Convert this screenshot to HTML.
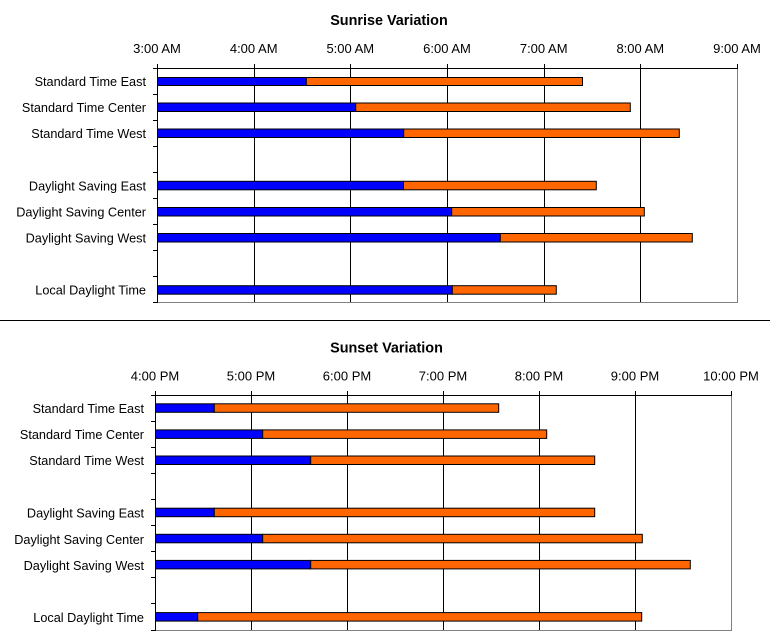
<!DOCTYPE html>
<html><head><meta charset="utf-8"><style>
html,body{margin:0;padding:0;background:#fff;}
svg{display:block;}
text{font-family:"Liberation Sans",Arial,sans-serif;fill:#000;}
.t{font-size:14.4px;font-weight:bold;}
.ax{font-size:13px;}
.cl{font-size:12.7px;}
</style></head><body>
<svg width="770" height="643" viewBox="0 0 770 643" xmlns="http://www.w3.org/2000/svg">
<!-- ================= SUNRISE ================= -->
<text class="t" x="389" y="25" text-anchor="middle">Sunrise Variation</text>
<g class="ax" text-anchor="middle">
<text x="157" y="53">3:00 AM</text>
<text x="253.7" y="53">4:00 AM</text>
<text x="350.3" y="53">5:00 AM</text>
<text x="447" y="53">6:00 AM</text>
<text x="543.7" y="53">7:00 AM</text>
<text x="640.3" y="53">8:00 AM</text>
<text x="737" y="53">9:00 AM</text>
</g>
<!-- borders -->
<line x1="737.5" y1="68" x2="737.5" y2="303" stroke="#808080"/>
<line x1="157" y1="302.5" x2="738" y2="302.5" stroke="#808080"/>
<line x1="157" y1="68.5" x2="738" y2="68.5" stroke="#000"/>
<g stroke="#000">
<line x1="157.5" y1="64" x2="157.5" y2="303"/>
<line x1="254.5" y1="64" x2="254.5" y2="302"/>
<line x1="350.5" y1="64" x2="350.5" y2="302"/>
<line x1="447.5" y1="64" x2="447.5" y2="302"/>
<line x1="544.5" y1="64" x2="544.5" y2="302"/>
<line x1="640.5" y1="64" x2="640.5" y2="302"/>
<line x1="737.5" y1="64" x2="737.5" y2="68"/>
<line x1="153" y1="68.5" x2="157" y2="68.5"/>
<line x1="153" y1="94.5" x2="157" y2="94.5"/>
<line x1="153" y1="120.5" x2="157" y2="120.5"/>
<line x1="153" y1="146.5" x2="157" y2="146.5"/>
<line x1="153" y1="172.5" x2="157" y2="172.5"/>
<line x1="153" y1="198.5" x2="157" y2="198.5"/>
<line x1="153" y1="224.5" x2="157" y2="224.5"/>
<line x1="153" y1="250.5" x2="157" y2="250.5"/>
<line x1="153" y1="276.5" x2="157" y2="276.5"/>
<line x1="153" y1="302.5" x2="157" y2="302.5"/>
</g>
<g stroke="#000" stroke-width="1">
<rect x="157.5" y="77.5" width="148.8" height="8" fill="#0000FF"/>
<rect x="306.3" y="77.5" width="276.2" height="8" fill="#FF6600"/>
<rect x="157.5" y="103" width="198.2" height="8.5" fill="#0000FF"/>
<rect x="355.7" y="103" width="274.6" height="8.5" fill="#FF6600"/>
<rect x="157.5" y="129" width="246.2" height="8.5" fill="#0000FF"/>
<rect x="403.7" y="129" width="275.6" height="8.5" fill="#FF6600"/>
<rect x="157.5" y="181.3" width="246" height="8.5" fill="#0000FF"/>
<rect x="403.5" y="181.3" width="192.8" height="8.5" fill="#FF6600"/>
<rect x="157.5" y="207.5" width="294.2" height="8.5" fill="#0000FF"/>
<rect x="451.7" y="207.5" width="192.6" height="8.5" fill="#FF6600"/>
<rect x="157.5" y="233.5" width="342.8" height="8.5" fill="#0000FF"/>
<rect x="500.3" y="233.5" width="192" height="8.5" fill="#FF6600"/>
<rect x="157.5" y="285.7" width="294.8" height="8.5" fill="#0000FF"/>
<rect x="452.3" y="285.7" width="104" height="8.5" fill="#FF6600"/>
</g>
<g class="cl" text-anchor="end">
<text x="146" y="86">Standard Time East</text>
<text x="146" y="112">Standard Time Center</text>
<text x="146" y="138">Standard Time West</text>
<text x="146" y="190.5">Daylight Saving East</text>
<text x="146" y="216.5">Daylight Saving Center</text>
<text x="146" y="242.5">Daylight Saving West</text>
<text x="146" y="294.5">Local Daylight Time</text>
</g>

<!-- separator -->
<line x1="0" y1="320.5" x2="770" y2="320.5" stroke="#000"/>

<!-- ================= SUNSET ================= -->
<text class="t" x="386.5" y="352.5" text-anchor="middle">Sunset Variation</text>
<g class="ax" text-anchor="middle">
<text x="155" y="380.5">4:00 PM</text>
<text x="251" y="380.5">5:00 PM</text>
<text x="347" y="380.5">6:00 PM</text>
<text x="443" y="380.5">7:00 PM</text>
<text x="539" y="380.5">8:00 PM</text>
<text x="635" y="380.5">9:00 PM</text>
<text x="731" y="380.5">10:00 PM</text>
</g>
<line x1="731.5" y1="395" x2="731.5" y2="630" stroke="#808080"/>
<line x1="155" y1="630.5" x2="732" y2="630.5" stroke="#808080"/>
<line x1="155" y1="395.5" x2="732" y2="395.5" stroke="#000"/>
<g stroke="#000">
<line x1="155.5" y1="391" x2="155.5" y2="631"/>
<line x1="251.5" y1="391" x2="251.5" y2="630"/>
<line x1="347.5" y1="391" x2="347.5" y2="630"/>
<line x1="443.5" y1="391" x2="443.5" y2="630"/>
<line x1="539.5" y1="391" x2="539.5" y2="630"/>
<line x1="635.5" y1="391" x2="635.5" y2="630"/>
<line x1="731.5" y1="391" x2="731.5" y2="395"/>
<line x1="151" y1="395.5" x2="155" y2="395.5"/>
<line x1="151" y1="421.5" x2="155" y2="421.5"/>
<line x1="151" y1="447.5" x2="155" y2="447.5"/>
<line x1="151" y1="473.5" x2="155" y2="473.5"/>
<line x1="151" y1="499.5" x2="155" y2="499.5"/>
<line x1="151" y1="525.5" x2="155" y2="525.5"/>
<line x1="151" y1="551.5" x2="155" y2="551.5"/>
<line x1="151" y1="577.5" x2="155" y2="577.5"/>
<line x1="151" y1="603.5" x2="155" y2="603.5"/>
<line x1="151" y1="630.5" x2="155" y2="630.5"/>
</g>
<g stroke="#000" stroke-width="1">
<rect x="155.5" y="403.8" width="58.8" height="8.5" fill="#0000FF"/>
<rect x="214.3" y="403.8" width="284.4" height="8.5" fill="#FF6600"/>
<rect x="155.5" y="429.9" width="107.2" height="8.5" fill="#0000FF"/>
<rect x="262.7" y="429.9" width="284" height="8.5" fill="#FF6600"/>
<rect x="155.5" y="456" width="155.2" height="8.5" fill="#0000FF"/>
<rect x="310.7" y="456" width="284" height="8.5" fill="#FF6600"/>
<rect x="155.5" y="508.2" width="58.8" height="8.5" fill="#0000FF"/>
<rect x="214.3" y="508.2" width="380.4" height="8.5" fill="#FF6600"/>
<rect x="155.5" y="534.3" width="107.2" height="8.5" fill="#0000FF"/>
<rect x="262.7" y="534.3" width="379.6" height="8.5" fill="#FF6600"/>
<rect x="155.5" y="560.4" width="155.2" height="8.5" fill="#0000FF"/>
<rect x="310.7" y="560.4" width="379.6" height="8.5" fill="#FF6600"/>
<rect x="155.5" y="612.6" width="42.2" height="8.5" fill="#0000FF"/>
<rect x="197.7" y="612.6" width="444" height="8.5" fill="#FF6600"/>
</g>
<g class="cl" text-anchor="end">
<text x="144" y="413">Standard Time East</text>
<text x="144" y="439">Standard Time Center</text>
<text x="144" y="465">Standard Time West</text>
<text x="144" y="517.5">Daylight Saving East</text>
<text x="144" y="543.8">Daylight Saving Center</text>
<text x="144" y="570">Daylight Saving West</text>
<text x="144" y="622">Local Daylight Time</text>
</g>
</svg>
</body></html>
